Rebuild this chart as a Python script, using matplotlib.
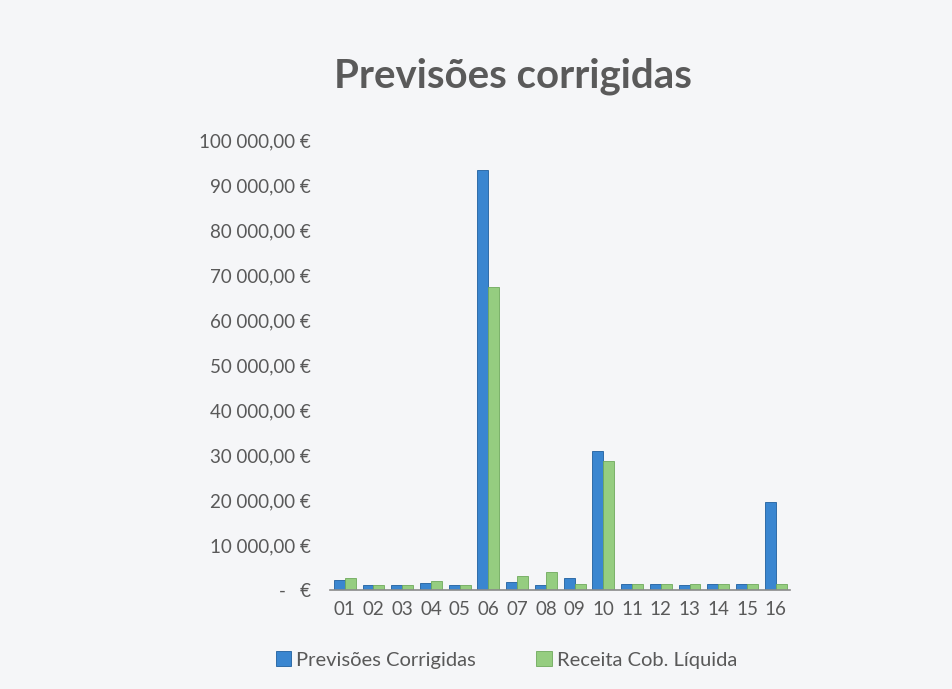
import numpy as np
import matplotlib
matplotlib.use("Agg")
import matplotlib.pyplot as plt
from matplotlib.ticker import FuncFormatter, MultipleLocator

# data
categories = ["01", "02", "03", "04", "05", "06", "07", "08",
              "09", "10", "11", "12", "13", "14", "15", "16"]
previsoes = [2200, 1100, 1000, 1500, 1100, 93300, 1700, 1200,
             2700, 30900, 1300, 1300, 1200, 1300, 1300, 19600]
receita = [2700, 1000, 1000, 2000, 1100, 67300, 3100, 3900,
           1300, 28700, 1300, 1300, 1300, 1300, 1400, 1400]

blue = "#3a86d0"
green = "#95cd80"
grey = "#595959"
bg = "#f5f6f8"

plt.rcParams['font.family'] = ['Lato', 'DejaVu Sans']

fig = plt.figure(figsize=(9.52, 6.89), dpi=100, facecolor=bg)
ax = fig.add_axes([0.347, 0.1437, 0.483, 0.653], facecolor=bg)

x = np.arange(len(categories))
w = 0.38
b1 = ax.bar(x - w / 2, previsoes, w, color=blue, edgecolor="#1f5f9e", linewidth=0.6,
            label="Previsões Corrigidas")
b2 = ax.bar(x + w / 2, receita, w, color=green, edgecolor="#6fa95c", linewidth=0.6,
            label="Receita Cob. Líquida")

ax.set_xlim(-0.5, len(categories) - 0.5)
ax.set_ylim(0, 100000)
ax.yaxis.set_major_locator(MultipleLocator(10000))


def euro(v, pos):
    if v == 0:
        return "-   €"
    s = "{:,.2f}".format(v).replace(",", " ").replace(".", ",")
    return s + " €"


ax.yaxis.set_major_formatter(FuncFormatter(euro))
ax.set_xticks(x)
ax.set_xticklabels(categories)
ax.tick_params(axis="y", length=0, labelsize=13.5, labelcolor=grey, pad=14)
ax.tick_params(axis="x", length=0, labelsize=13.5, labelcolor=grey, pad=8)

for s in ["top", "right", "left"]:
    ax.spines[s].set_visible(False)
ax.spines["bottom"].set_color("#8a8a8a")
ax.spines["bottom"].set_linewidth(1.2)

fig.text(0.539, 0.889, "Previsões corrigidas", ha="center", va="center",
         fontsize=29, fontweight="bold", color="#5a5a5a")

leg = fig.legend(handles=[b1, b2], loc="center", bbox_to_anchor=(0.532, 0.042),
                 ncol=2, frameon=False, fontsize=14.5, handlelength=0.75,
                 handleheight=0.75, columnspacing=3.0, handletextpad=0.25)
for t in leg.get_texts():
    t.set_color(grey)

fig.savefig("out.png", dpi=100, facecolor=bg)
